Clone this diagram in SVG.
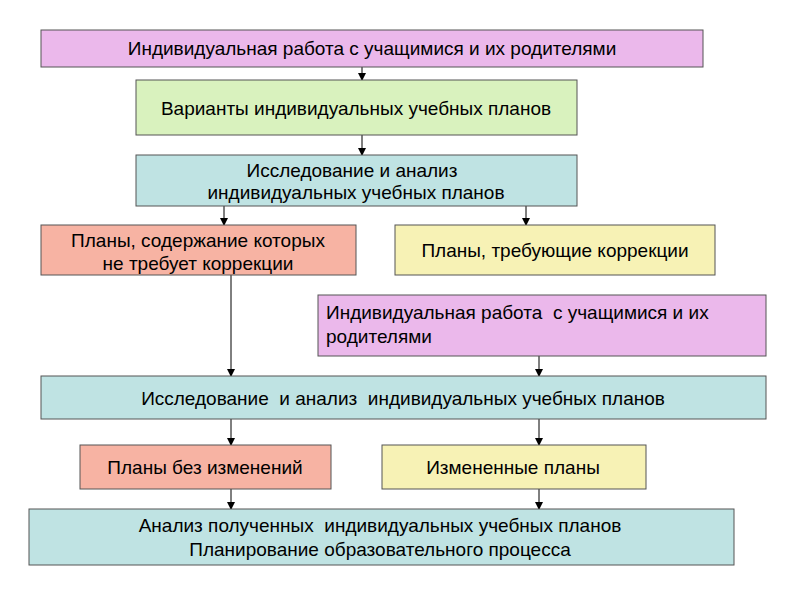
<svg xmlns="http://www.w3.org/2000/svg" width="800" height="600" viewBox="0 0 800 600">
<style>
.box{stroke:#555;stroke-width:1}
text{font-family:"Liberation Sans",Arial,sans-serif;font-size:19px;fill:#000;white-space:pre}
.c{text-anchor:middle}
.pink{fill:#EBB8EB}.green{fill:#D9F2BE}.blue{fill:#BFE3E3}.salmon{fill:#F7B3A3}.yellow{fill:#F7F2B5}
line{stroke:#000;stroke-width:1;marker-end:url(#a)}
</style>
<defs><marker id="a" markerWidth="8" markerHeight="8" refX="7" refY="4" orient="auto" markerUnits="userSpaceOnUse"><path d="M0,0L8,4L0,8z" fill="#000"/></marker></defs>
<rect width="800" height="600" fill="#fff"/>
<g id="connectors">
<line x1="362" y1="67" x2="362" y2="80"/>
<line x1="362" y1="135" x2="362" y2="155"/>
<line x1="224" y1="206" x2="224" y2="225"/>
<line x1="526" y1="206" x2="526" y2="225"/>
<line x1="231" y1="275" x2="231" y2="376"/>
<line x1="539" y1="356" x2="539" y2="376"/>
<line x1="231" y1="419" x2="231" y2="445"/>
<line x1="539" y1="419" x2="539" y2="445"/>
<line x1="231" y1="489" x2="231" y2="509"/>
<line x1="539" y1="489" x2="539" y2="509"/>
</g>
<g id="n1"><rect class="box pink" x="41" y="30" width="662" height="37"/><text class="c" x="372" y="55">Индивидуальная работа с учащимися и их родителями</text></g>
<g id="n2"><rect class="box green" x="136" y="80" width="441" height="55"/><text class="c" x="356" y="115">Варианты индивидуальных учебных планов</text></g>
<g id="n3"><rect class="box blue" x="136" y="155" width="441" height="51"/><text class="c" x="352" y="177">Исследование и анализ</text><text class="c" x="356" y="199">индивидуальных учебных планов</text></g>
<g id="n4"><rect class="box salmon" x="41" y="225" width="315" height="50"/><text class="c" x="198" y="247">Планы, содержание которых</text><text class="c" x="198" y="270">не требует коррекции</text></g>
<g id="n5"><rect class="box yellow" x="395" y="225" width="320" height="50"/><text class="c" x="555" y="257">Планы, требующие коррекции</text></g>
<g id="n6"><rect class="box pink" x="318" y="295" width="448" height="61"/><text x="326" y="319">Индивидуальная работа  с учащимися и их</text><text x="326" y="343">родителями</text></g>
<g id="n7"><rect class="box blue" x="41" y="376" width="725" height="43"/><text class="c" x="403" y="405">Исследование  и анализ  индивидуальных учебных планов</text></g>
<g id="n8"><rect class="box salmon" x="80" y="445" width="251" height="44"/><text class="c" x="205" y="474">Планы без изменений</text></g>
<g id="n9"><rect class="box yellow" x="382" y="445" width="264" height="44"/><text class="c" x="513" y="474">Измененные планы</text></g>
<g id="n10"><rect class="box blue" x="29" y="509" width="705" height="56"/><text class="c" x="380" y="532">Анализ полученных  индивидуальных учебных планов</text><text class="c" x="380" y="556">Планирование образовательного процесса</text></g>
</svg>
